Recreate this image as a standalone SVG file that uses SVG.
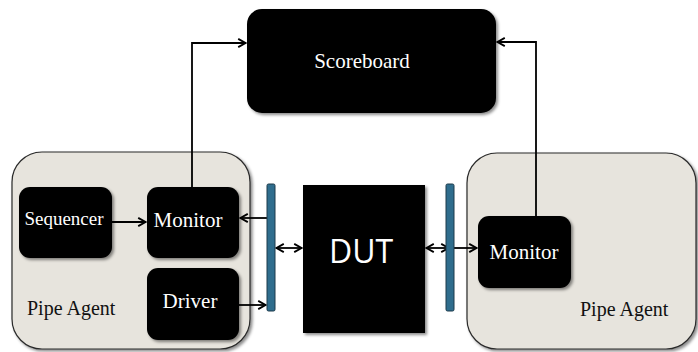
<svg xmlns="http://www.w3.org/2000/svg" width="698" height="352" viewBox="0 0 698 352">
<style>
.agent{fill:#E7E4DD;stroke:#2a2a2a;stroke-width:1.2;filter:url(#sh)}
.node{fill:#000;filter:url(#sh)}
.bar{fill:#2F6D8D;stroke:#1c3a4a;stroke-width:1}
.lbl{font-family:"Liberation Serif","Times New Roman",serif;fill:#fff;text-anchor:middle}
.alabel{font-family:"Liberation Serif","Times New Roman",serif;fill:#111;font-size:20px}
.dut{font-family:"Open Sans","DejaVu Sans",sans-serif;fill:#fff;font-size:32px;text-anchor:middle}
.conn{fill:none;stroke:#000;stroke-width:1.8}
</style>
<defs>
<filter id="sh" x="-10%" y="-10%" width="125%" height="125%">
<feDropShadow dx="2" dy="2" stdDeviation="1.6" flood-color="#000" flood-opacity="0.45"/>
</filter>
<marker id="ah" viewBox="0 0 12 12" refX="11" refY="6" markerWidth="11" markerHeight="11" markerUnits="userSpaceOnUse" orient="auto-start-reverse">
<path d="M2.5,1.5 L10.5,6 L2.5,10.5" fill="none" stroke="#000" stroke-width="2"/>
</marker>
</defs>
<rect width="698" height="352" fill="#fff"/>
<g id="agent-left">
<rect class="agent" x="12" y="152" width="238" height="197" rx="30"/>
<text class="alabel" x="27" y="315">Pipe Agent</text>
</g>
<g id="agent-right">
<rect class="agent" x="467" y="153" width="229" height="196" rx="30"/>
<text class="alabel" x="580" y="316">Pipe Agent</text>
</g>
<g id="scoreboard">
<rect class="node" x="247" y="9" width="249" height="104" rx="15"/>
<text class="lbl" x="362" y="68" font-size="21">Scoreboard</text>
</g>
<g id="sequencer">
<rect class="node" x="19" y="187" width="93" height="71" rx="11"/>
<text class="lbl" x="64" y="225" font-size="19">Sequencer</text>
</g>
<g id="monitor-left">
<rect class="node" x="147" y="187" width="92" height="71" rx="11"/>
<text class="lbl" x="188" y="227" font-size="21">Monitor</text>
</g>
<g id="driver">
<rect class="node" x="147" y="268" width="92" height="72" rx="11"/>
<text class="lbl" x="190" y="308" font-size="21">Driver</text>
</g>
<g id="monitor-right">
<rect class="node" x="478" y="216" width="93" height="72" rx="11"/>
<text class="lbl" x="524" y="259" font-size="21">Monitor</text>
</g>
<g id="dut">
<rect class="node" x="303" y="185" width="122" height="148"/>
<text class="dut" x="361" y="263">DUT</text>
</g>
<g id="connectors">
<path class="conn" d="M192,187 V43 H246" marker-end="url(#ah)"/>
<path class="conn" d="M536,216 V42 H497" marker-end="url(#ah)"/>
<path class="conn" d="M112,222 H146" marker-end="url(#ah)"/>
<path class="conn" d="M267,218 H240" marker-end="url(#ah)"/>
<path class="conn" d="M239,305 H266" marker-end="url(#ah)"/>
<path class="conn" d="M276,248 H302" marker-start="url(#ah)" marker-end="url(#ah)"/>
<path class="conn" d="M426,248 H449" marker-start="url(#ah)" marker-end="url(#ah)"/>
<path class="conn" d="M454,248 H477" marker-end="url(#ah)"/>
</g>
<g id="bar-left">
<rect class="bar" x="267" y="184" width="8" height="127" rx="1.5"/>
</g>
<g id="bar-right">
<rect class="bar" x="446" y="184" width="8" height="127" rx="1.5"/>
</g>
</svg>
